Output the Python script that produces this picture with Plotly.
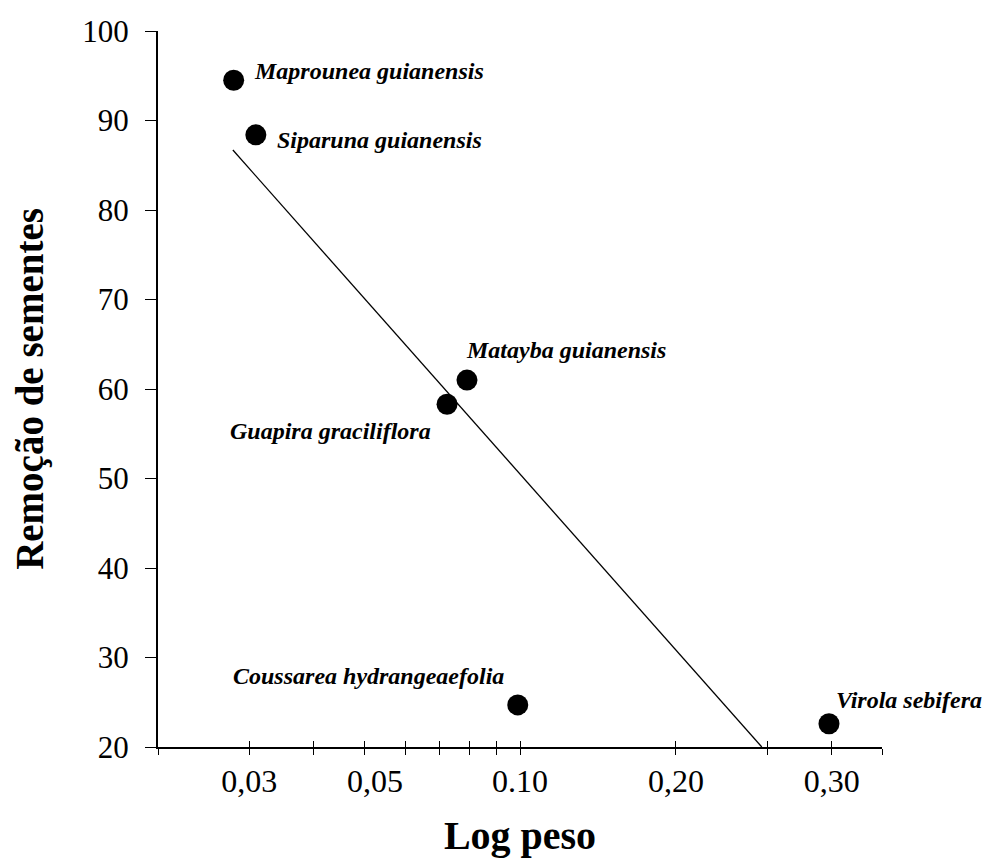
import plotly.graph_objects as go
import math

species = ["Maprounea guianensis", "Siparuna guianensis", "Matayba guianensis",
           "Guapira graciliflora", "Coussarea hydrangeaefolia", "Virola sebifera"]
log_peso = [0.028, 0.0309, 0.079, 0.0723, 0.099, 0.395]
remocao = [94.5, 88.4, 61.0, 58.3, 24.7, 22.6]

fit_x = [0.0279, 0.293]
fit_y = [86.7, 20.0]

tick_vals = [0.02, 0.03, 0.04, 0.05, 0.06, 0.07, 0.08, 0.09, 0.1, 0.2, 0.3, 0.4, 0.5]
label_vals = [0.03, 0.0525, 0.1, 0.2, 0.4]
label_text = ["0,03", "0,05", "0.10", "0,20", "0,30"]
y_ticks = [20, 30, 40, 50, 60, 70, 80, 90, 100]

# label placement (pixel offsets from point, anchor)
label_pos = [(18, 9, "left"), (19, -5, "left"), (-3, 30, "left"),
             (-14, -27, "right"), (-12, 29, "right"), (5, 24, "left")]

FONT = "Liberation Serif, Times New Roman, serif"

fig = go.Figure()
fig.add_trace(go.Scatter(x=fit_x, y=fit_y, mode="lines",
                         line=dict(color="black", width=1.3), showlegend=False,
                         hoverinfo="skip"))
fig.add_trace(go.Scatter(x=log_peso, y=remocao, mode="markers",
                         marker=dict(color="black", size=21), showlegend=False,
                         text=species))
# invisible traces for overlay axes (crossing ticks, tick labels)
for ax in ("x2", "x3"):
    fig.add_trace(go.Scatter(x=[0.02, 0.5], y=[20, 20], xaxis=ax, mode="markers",
                             marker=dict(size=1, opacity=0), showlegend=False,
                             hoverinfo="skip"))

for name, xv, yv, (dx, dy, anc) in zip(species, log_peso, remocao, label_pos):
    fig.add_annotation(x=math.log10(xv), y=yv, xref="x", yref="y", text=name,
                       showarrow=False, xanchor=anc, yanchor="middle",
                       xshift=dx, yshift=dy,
                       font=dict(family=FONT, size=24, color="black",
                                 style="italic", weight="bold"))

xr = [math.log10(0.02), math.log10(0.5)]
fig.update_layout(
    width=984, height=850,
    paper_bgcolor="white", plot_bgcolor="white",
    margin=dict(l=150, r=110, t=23, b=111),
    font=dict(family=FONT, color="black"),
    xaxis=dict(type="log", range=xr, tickmode="array", tickvals=tick_vals,
               showticklabels=False, ticks="outside", ticklen=6, tickwidth=1.3,
               tickcolor="black", showline=True, linecolor="black", linewidth=2,
               showgrid=False, zeroline=False, automargin=False),
    xaxis2=dict(type="log", range=xr, overlaying="x", anchor="y", side="bottom",
                tickmode="array", tickvals=tick_vals, showticklabels=False,
                ticks="inside", ticklen=6, tickwidth=1.3, tickcolor="black",
                showline=False, showgrid=False, zeroline=False, automargin=False),
    xaxis3=dict(type="log", range=xr, overlaying="x", anchor="y", side="bottom",
                tickmode="array", tickvals=label_vals, ticktext=label_text,
                ticks="outside", ticklen=6, tickcolor="rgba(0,0,0,0)",
                showline=False, showgrid=False, zeroline=False, automargin=False,
                tickfont=dict(family=FONT, size=32, color="black"),
                title=dict(text="<b>Log peso</b>", standoff=24,
                           font=dict(family=FONT, size=40, color="black"))),
    yaxis=dict(range=[20, 100], tickmode="array", tickvals=y_ticks,
               ticks="outside", ticklen=11, tickwidth=1.3, tickcolor="black",
               showline=True, linecolor="black", linewidth=2,
               showgrid=False, zeroline=False, automargin=False,
               ticklabelstandoff=10,
               tickfont=dict(family=FONT, size=31, color="black"),
               title=dict(text="<b>Remoção de sementes</b>", standoff=40,
                          font=dict(family=FONT, size=39, color="black"))),
)
fig.write_html("out.html")
